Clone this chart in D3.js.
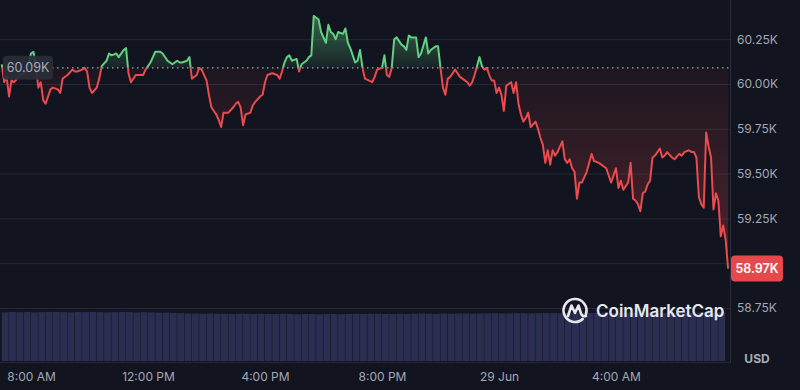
<!DOCTYPE html>
<html>
<head>
<meta charset="utf-8">
<script src="https://cdn.jsdelivr.net/npm/d3@7"></script>
<style>
html, body { margin: 0; padding: 0; background: #12141f; }
svg { display: block; font-family: Inter, "Noto Sans", sans-serif; }
</style>
</head>
<body>
<svg id="chart" width="800" height="390"></svg>
<script>
// BTC price, minutes after 28 Jun 07:00
var minutes = [0,5,10,15,20,25,35,50,55,60,65,70,75,80,85,90,95,100,105,115,120,125,135,145,150,155,165,170,175,180,185,195,200,205,215,220,225,235,240,250,255,260,265,270,275,290,295,305,310,315,325,330,340,345,350,360,365,370,380,385,390,400,405,410,420,425,430,440,445,450,455,465,475,480,485,490,495,500,510,515,520,530,535,540,545,555,565,570,575,580,585,590,595,605,610,615,625,630,635,640,645,650,655,665,670,675,680,685,690,700,705,710,715,725,730,735,740,745,760,765,770,780,785,790,795,800,805,810,820,825,830,835,840,850,855,860,870,875,880,890,895,900,905,910,915,920,925,930,935,940,950,955,960,965,970,975,980,985,990,995,1000,1005,1010,1015,1020,1025,1030,1035,1045,1050,1055,1060,1065,1070,1075,1080,1085,1095,1100,1105,1110,1115,1120,1125,1130,1135,1140,1150,1155,1160,1165,1170,1175,1180,1185,1190,1200,1210,1215,1225,1235,1240,1250,1255,1260,1265,1270,1275,1280,1285,1290,1295,1300,1305,1310,1315,1320,1325,1330,1335,1340,1350,1355,1360,1365,1375,1380,1390,1395,1400,1410,1415,1420,1425,1430,1435,1440,1445,1450,1455,1460,1465,1470,1475,1480,1485,1490];
var prices = [60.11,60.01,60.04,59.93,60.02,60.01,60.04,60.07,60.11,60.17,60.18,60.10,59.98,60.01,59.91,59.89,59.93,59.97,59.98,59.97,59.95,60.03,60.05,60.08,60.07,60.07,60.08,60.09,60.07,59.98,59.95,59.98,60.03,60.10,60.13,60.17,60.16,60.17,60.15,60.19,60.20,60.06,60.01,60.03,60.05,60.05,60.08,60.12,60.15,60.18,60.18,60.17,60.13,60.12,60.11,60.13,60.12,60.12,60.13,60.15,60.03,60.05,60.09,60.08,60.02,59.94,59.87,59.83,59.80,59.76,59.84,59.84,59.87,59.89,59.90,59.87,59.77,59.83,59.84,59.88,59.90,59.93,59.94,60.01,60.05,60.06,60.05,60.03,60.07,60.12,60.15,60.16,60.13,60.14,60.07,60.11,60.13,60.15,60.16,60.38,60.37,60.36,60.29,60.23,60.33,60.29,60.28,60.25,60.29,60.28,60.31,60.23,60.20,60.12,60.13,60.19,60.09,60.03,60.01,60.04,60.08,60.09,60.16,60.05,60.04,60.09,60.25,60.26,60.22,60.21,60.19,60.27,60.26,60.26,60.15,60.17,60.26,60.17,60.19,60.21,60.21,60.09,59.98,59.94,60.03,60.04,60.06,60.08,60.06,60.04,60.02,60.01,59.99,60.01,60.05,60.10,60.15,60.10,60.08,60.09,60.05,60.02,60.02,59.95,59.98,59.94,59.85,59.99,60.01,59.95,60.01,59.89,59.83,59.79,59.81,59.84,59.76,59.79,59.75,59.70,59.66,59.56,59.63,59.55,59.63,59.60,59.62,59.68,59.58,59.56,59.58,59.53,59.51,59.36,59.45,59.45,59.51,59.61,59.57,59.56,59.54,59.53,59.45,59.49,59.53,59.42,59.46,59.41,59.43,59.45,59.56,59.36,59.35,59.33,59.29,59.39,59.40,59.44,59.46,59.59,59.60,59.64,59.59,59.60,59.62,59.59,59.58,59.61,59.60,59.62,59.63,59.62,59.62,59.59,59.37,59.33,59.31,59.73,59.65,59.59,59.30,59.39,59.35,59.15,59.21,59.13,58.97];
var baseline = 60.09;

// 24h volume (B USD), 15-minute bars from 07:00
var volumes = [18.7,18.9,18.8,18.9,18.7,18.8,18.9,18.9,18.8,18.7,18.9,18.8,18.9,18.8,18.7,18.8,18.9,18.8,18.7,18.8,18.7,18.6,18.6,18.5,
  18.4,18.3,18.3,18.2,18.3,18.2,18.2,18.1,18.2,18.2,18.1,18.2,18.1,18.1,18.2,18.1,18.0,18.1,18.1,18.0,18.1,18.1,18.0,18.1,18.2,18.1,18.2,
  18.2,18.1,18.1,18.2,18.1,18.2,18.3,18.2,18.2,18.3,18.2,18.3,18.3,18.2,18.3,18.3,18.4,18.3,18.3,18.4,18.4,18.3,18.4,
  18.5,18.5,18.4,18.5,18.5,18.6,18.5,18.5,18.6,18.5,18.5,18.6,18.6,18.5,18.6,18.6,18.5,18.6,18.6,18.6,18.5,18.6,18.6,18.6,18.8];

var priceTicks = [60.25, 60.00, 59.75, 59.50, 59.25, 59.00, 58.75];

var start = new Date(2024, 5, 28, 7, 0);
var timeTicks = [new Date(2024, 5, 28, 8), new Date(2024, 5, 28, 12), new Date(2024, 5, 28, 16),
                 new Date(2024, 5, 28, 20), new Date(2024, 5, 29, 0), new Date(2024, 5, 29, 4)];

var data = minutes.map(function(m, i) { return {t: d3.timeMinute.offset(start, m), v: prices[i]}; })
  .filter(function(d) { return d.v != null; });

var svg = d3.select("#chart");
var W = 800, H = 390, plotRight = 731;
var green = "#62cf82", red = "#e94b4e";

var x = d3.scaleTime()
  .domain([start, d3.timeMinute.offset(start, 1490)])
  .range([1.75, 728.1]);
var y = d3.scaleLinear().domain([58.75, 60.25]).range([308, 39.2]);
var yv = d3.scaleLinear().domain([0, 20]).range([361, 309]);
var yB = y(baseline);

svg.append("rect").attr("width", W).attr("height", H).attr("fill", "#12141f");

// gridlines
svg.append("g")
  .attr("transform", "translate(" + plotRight + ",0)")
  .call(d3.axisLeft(y).tickValues(priceTicks).tickSize(plotRight).tickFormat(""))
  .call(function(g) {
    g.select(".domain").remove();
    g.selectAll("line").attr("stroke", "#252834");
  });

// volume bars
var barW = x(d3.timeMinute.offset(start, 15)) - x(start);
svg.append("g").selectAll("rect")
  .data(volumes)
  .enter().append("rect")
  .attr("x", function(d, i) { return x(d3.timeMinute.offset(start, i * 15)); })
  .attr("width", barW - 0.5)
  .attr("y", function(d) { return yv(d); })
  .attr("height", function(d) { return yv(0) - yv(d); })
  .attr("fill", "#2b2e51");

// clips above / below baseline
var defs = svg.append("defs");
defs.append("clipPath").attr("id", "above")
  .append("rect").attr("x", 0).attr("y", 0).attr("width", plotRight).attr("height", yB);
defs.append("clipPath").attr("id", "below")
  .append("rect").attr("x", 0).attr("y", yB).attr("width", plotRight).attr("height", H - yB);

var gg = defs.append("linearGradient").attr("id", "gGreen")
  .attr("gradientUnits", "userSpaceOnUse").attr("x1", 0).attr("x2", 0).attr("y1", yB).attr("y2", y(60.38));
gg.append("stop").attr("offset", 0).attr("stop-color", green).attr("stop-opacity", 0.08);
gg.append("stop").attr("offset", 1).attr("stop-color", green).attr("stop-opacity", 0.45);
var gr = defs.append("linearGradient").attr("id", "gRed")
  .attr("gradientUnits", "userSpaceOnUse").attr("x1", 0).attr("x2", 0).attr("y1", yB).attr("y2", y(58.97));
gr.append("stop").attr("offset", 0).attr("stop-color", red).attr("stop-opacity", 0.05);
gr.append("stop").attr("offset", 1).attr("stop-color", red).attr("stop-opacity", 0.28);

var area = d3.area().x(function(d) { return x(d.t); }).y0(yB).y1(function(d) { return y(d.v); });
var line = d3.line().x(function(d) { return x(d.t); }).y(function(d) { return y(d.v); });

svg.append("path").datum(data).attr("d", area).attr("fill", "url(#gGreen)").attr("clip-path", "url(#above)");
svg.append("path").datum(data).attr("d", area).attr("fill", "url(#gRed)").attr("clip-path", "url(#below)");

// baseline dots
svg.append("line").attr("x1", 52).attr("x2", plotRight).attr("y1", yB).attr("y2", yB)
  .attr("stroke", "#a4a9b5").attr("stroke-width", 1.3).attr("stroke-dasharray", "1.5,3.5");

svg.append("path").datum(data).attr("d", line).attr("fill", "none")
  .attr("stroke", green).attr("stroke-width", 2).attr("stroke-linejoin", "round").attr("clip-path", "url(#above)");
svg.append("path").datum(data).attr("d", line).attr("fill", "none")
  .attr("stroke", red).attr("stroke-width", 2).attr("stroke-linejoin", "round").attr("clip-path", "url(#below)");

// frame lines
svg.append("line").attr("x1", plotRight - 0.5).attr("x2", plotRight - 0.5).attr("y1", 0).attr("y2", 362)
  .attr("stroke", "#2c2f3b");
svg.append("line").attr("x1", 0).attr("x2", plotRight).attr("y1", 362.5).attr("y2", 362.5)
  .attr("stroke", "#262935");

// right axis
svg.append("g")
  .attr("transform", "translate(" + plotRight + ",0)")
  .call(d3.axisRight(y).tickValues(priceTicks).tickSize(0).tickPadding(6)
    .tickFormat(function(d) { return d === 59 ? "" : d.toFixed(2) + "K"; }))
  .call(function(g) {
    g.select(".domain").remove();
    g.selectAll("text").attr("fill", "#a3a8b6").style("font-size", "12px").style("font-family", "Inter, sans-serif");
  });

// bottom axis
var fmt = d3.timeFormat("%-I:%M %p");
svg.append("g")
  .attr("transform", "translate(0,372)")
  .call(d3.axisBottom(x).tickValues(timeTicks).tickSize(0).tickPadding(0)
    .tickFormat(function(d) { return d.getHours() === 0 ? d3.timeFormat("%-d %b")(d) : fmt(d); }))
  .call(function(g) {
    g.select(".domain").remove();
    g.selectAll("text").attr("fill", "#a3a8b6").style("font-size", "12px").style("font-family", "Inter, sans-serif");
  });

svg.append("text").attr("x", 757).attr("y", 363).attr("text-anchor", "middle")
  .attr("fill", "#a7acb9").style("font-size", "12px").style("font-weight", 700).text("USD");

// baseline badge
svg.append("rect").attr("x", 3).attr("y", yB - 12).attr("width", 50).attr("height", 24).attr("rx", 4)
  .attr("fill", "#2a2d39").attr("fill-opacity", 0.9);
svg.append("text").attr("x", 28).attr("y", yB + 4.5).attr("text-anchor", "middle")
  .attr("fill", "#a5aab7").style("font-size", "12.5px").text(baseline.toFixed(2) + "K");

// last price badge
var last = prices[prices.length - 1];
svg.append("rect").attr("x", 731).attr("y", y(last) - 13).attr("width", 52).attr("height", 26).attr("rx", 4)
  .attr("fill", "#e5484d");
svg.append("text").attr("x", 757).attr("y", y(last) + 4.5).attr("text-anchor", "middle")
  .attr("fill", "#ffffff").style("font-size", "12.5px").style("font-weight", 600).text(last.toFixed(2) + "K");

// watermark
var logo = svg.append("g").attr("fill", "none").attr("stroke", "#e6e8ee").attr("stroke-width", 2.6)
  .attr("stroke-linecap", "round").attr("stroke-linejoin", "round");
logo.append("path").attr("d", d3.arc()({innerRadius: 11.5, outerRadius: 11.5, startAngle: 2.4, endAngle: 2 * Math.PI + 1.9}))
  .attr("transform", "translate(575,310.5)");
logo.append("path").attr("d", "M568,316 L571.5,305.5 L575,313 L578.5,305.5 L581,313.5 Q582.5,317 586,316");
svg.append("text").attr("x", 596).attr("y", 317).attr("fill", "#e6e8ee")
  .style("font-size", "17px").style("font-weight", 600).text("CoinMarketCap");
</script>
</body>
</html>
